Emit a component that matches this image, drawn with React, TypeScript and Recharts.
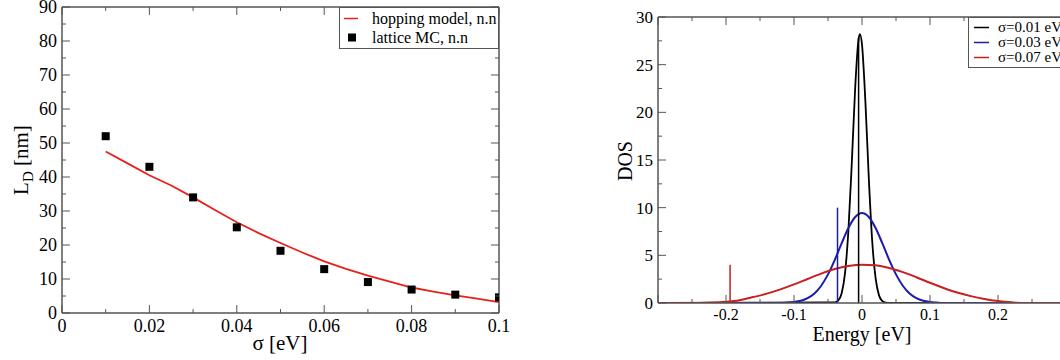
import { ComposedChart, Line, Scatter, XAxis, YAxis, Legend, Label } from 'recharts'

// left panel: diffusion length vs disorder
const sigmaTicks = [0, 0.02, 0.04, 0.06, 0.08, 0.1]
const sigmaMinorTicks = [0.01, 0.03, 0.05, 0.07, 0.09]
const ldTicks = [0, 10, 20, 30, 40, 50, 60, 70, 80, 90]
const ldMinorTicks = [5, 15, 25, 35, 45, 55, 65, 75, 85]

const hoppingSigma = [0.01, 0.015, 0.02, 0.025, 0.03, 0.035, 0.04, 0.045, 0.05, 0.055, 0.06, 0.065, 0.07, 0.075, 0.08, 0.085, 0.09, 0.095, 0.1]
const hoppingLd = [47.5, 44, 40.5, 37.5, 34, 30.3, 26.7, 23.5, 20.6, 17.8, 15.2, 13, 11, 9.2, 7.5, 6.3, 5.2, 4.2, 3.2]

const latticeSigma = [0.01, 0.02, 0.03, 0.04, 0.05, 0.06, 0.07, 0.08, 0.09, 0.1]
const latticeLd = [52, 43, 34, 25.2, 18.3, 12.9, 9.1, 6.9, 5.4, 4.6]

// right panel: density of states
const energyLabelTicks = [-0.2, -0.1, 0, 0.1, 0.2]
const energyMajorTicks = [-0.3, -0.2, -0.1, 0, 0.1, 0.2, 0.3]
const energyMinorTicks = [-0.25, -0.15, -0.05, 0.05, 0.15, 0.25]
const dosTicks = [0, 5, 10, 15, 20, 25, 30]
const dosMinorTicks = [2.5, 7.5, 12.5, 17.5, 22.5, 27.5]

const dos01Energy = [-0.3, -0.04, -0.035, -0.03, -0.025, -0.02, -0.015, -0.01, -0.005, -0.003, 0, 0.005, 0.01, 0.015, 0.02, 0.025, 0.03, 0.035, 0.04, 0.3]
const dos01Value = [0, 0.06, 0.27, 1.0, 3.1, 7.6, 14.7, 22.6, 27.7, 28.2, 27.1, 21.1, 13.1, 6.5, 2.6, 0.8, 0.2, 0.04, 0, 0]

const dos03Energy = [-0.3, -0.12, -0.11, -0.1, -0.09, -0.08, -0.07, -0.06, -0.05, -0.04, -0.03, -0.02, -0.01, 0, 0.01, 0.02, 0.03, 0.04, 0.05, 0.06, 0.07, 0.08, 0.09, 0.1, 0.11, 0.12, 0.3]
const dos03Value = [0, 0, 0.04, 0.1, 0.23, 0.5, 0.99, 1.81, 3.0, 4.52, 6.25, 7.86, 9.02, 9.44, 9.02, 7.86, 6.25, 4.52, 3.0, 1.81, 0.99, 0.5, 0.23, 0.1, 0.04, 0, 0]

const dos07Energy = [-0.3, -0.24, -0.22, -0.2, -0.18, -0.16, -0.14, -0.12, -0.1, -0.08, -0.06, -0.04, -0.02, 0, 0.02, 0.04, 0.06, 0.08, 0.1, 0.12, 0.14, 0.16, 0.18, 0.2, 0.22, 0.24, 0.3]
const dos07Value = [0, 0, 0.04, 0.13, 0.3, 0.62, 0.98, 1.43, 1.95, 2.52, 3.08, 3.56, 3.88, 4.02, 3.95, 3.68, 3.24, 2.7, 2.12, 1.58, 1.1, 0.72, 0.42, 0.2, 0.07, 0, 0]

const markerEnergy = [-0.005, -0.036, -0.194]
const markerHeight = [27.8, 10, 4]

const serif = 'Liberation Serif, Times New Roman, serif'
const frame = '#555'

const zip = (xs: number[], ys: number[]) => xs.map((x, i) => ({ x, y: ys[i] }))

const hoppingData = zip(hoppingSigma, hoppingLd)
const latticeData = zip(latticeSigma, latticeLd)
const dos01 = zip(dos01Energy, dos01Value)
const dos03 = zip(dos03Energy, dos03Value)
const dos07 = zip(dos07Energy, dos07Value)
const markers = markerEnergy.map((x, i) => [{ x, y: 0 }, { x, y: markerHeight[i] }])

// inward tick marks (long for majors, short for minors) plus optional outside labels
function makeTick(side: 'bottom' | 'top' | 'left' | 'right', majors: number[], labels: number[] | null, fontSize: number, below = 19) {
  return (p: any) => {
    const v = p.payload.value
    const len = majors.includes(v) ? 8 : 4
    const x = p.x
    const y = p.y
    let line
    if (side === 'bottom') line = <line x1={x} x2={x} y1={y} y2={y - len} stroke={frame} />
    else if (side === 'top') line = <line x1={x} x2={x} y1={y} y2={y + len} stroke={frame} />
    else if (side === 'left') line = <line x1={x} x2={x + len} y1={y} y2={y} stroke={frame} />
    else line = <line x1={x} x2={x - len} y1={y} y2={y} stroke={frame} />
    let label = null
    if (labels && labels.includes(v)) {
      if (side === 'bottom') {
        label = <text x={x} y={y + below} textAnchor="middle" fontFamily={serif} fontSize={fontSize} fill="#000">{String(v)}</text>
      } else if (side === 'left') {
        label = <text x={x - 5} y={y + 6} textAnchor="end" fontFamily={serif} fontSize={fontSize} fill="#000">{String(v)}</text>
      }
    }
    return <g>{line}{label}</g>
  }
}

function BoxLegend(props: any) {
  const { payload, rowH, fontSize, padTop, lineX1, lineX2, textX } = props
  const items = (payload ?? []).filter((it: any) => it.type !== 'none')
  return (
    <div
      style={{
        border: `1px solid ${frame}`,
        background: '#fff',
        paddingTop: padTop,
        paddingBottom: padTop,
        boxSizing: 'border-box',
        fontFamily: serif,
        fontSize,
        color: '#000',
        whiteSpace: 'nowrap',
        overflow: 'hidden',
      }}
    >
      {items.map((it: any) => (
        <div key={it.value} style={{ display: 'flex', alignItems: 'center', height: rowH }}>
          <svg width={textX} height={rowH} style={{ flex: 'none' }}>
            {it.type === 'square' ? (
              <rect x={(lineX1 + lineX2) / 2 - 3} y={rowH / 2 - 4} width={8} height={8} fill={it.color} />
            ) : (
              <line x1={lineX1} x2={lineX2} y1={rowH / 2} y2={rowH / 2} stroke={it.color} strokeWidth={1.5} />
            )}
          </svg>
          <span style={{ lineHeight: `${rowH}px` }}>{it.value}</span>
        </div>
      ))}
    </div>
  )
}

const axisLine = { stroke: frame, strokeWidth: 1.5 }

function DiffusionChart() {
  const allX = [...sigmaTicks, ...sigmaMinorTicks]
  const allY = [...ldTicks, ...ldMinorTicks]
  return (
    <ComposedChart width={520} height={360} margin={{ top: 6, right: 20, bottom: 46, left: 61 }}>
      <XAxis xAxisId="main" dataKey="x" type="number" domain={[0, 0.1]} allowDataOverflow ticks={allX}
        interval={0} height={1} tickLine={false} tickSize={0} tickMargin={0} axisLine={axisLine}
        tick={makeTick('bottom', sigmaTicks, sigmaTicks, 18)}>
        <Label content={() => (
          <text x={280} y={350} textAnchor="middle" fontFamily={serif} fontSize={21} fill="#000">σ [eV]</text>
        )} />
      </XAxis>
      <XAxis xAxisId="top" orientation="top" dataKey="x" type="number" domain={[0, 0.1]} allowDataOverflow ticks={allX}
        interval={0} height={1} tickLine={false} tickSize={0} tickMargin={0} axisLine={axisLine}
        tick={makeTick('top', sigmaTicks, null, 18)} />

      <YAxis yAxisId="main" type="number" domain={[0, 90]} allowDataOverflow ticks={allY} interval={0}
        width={1} tickLine={false} tickSize={0} tickMargin={0} axisLine={axisLine}
        tick={makeTick('left', ldTicks, ldTicks, 18)}>
        <Label content={() => (
          <text x={28} y={160} textAnchor="middle" transform="rotate(-90 28 160)" fontFamily={serif} fontSize={21} fill="#000">
            L<tspan dy={5} fontSize={15}>D</tspan><tspan dy={-5}> [nm]</tspan>
          </text>
        )} />
      </YAxis>
      <YAxis yAxisId="right" orientation="right" type="number" domain={[0, 90]} allowDataOverflow ticks={allY} interval={0}
        width={1} tickLine={false} tickSize={0} tickMargin={0} axisLine={axisLine}
        tick={makeTick('right', ldTicks, null, 18)} />

      <Line xAxisId="main" yAxisId="main" data={hoppingData} dataKey="y" name="hopping model, n.n" type="linear"
        stroke="#e8201c" strokeWidth={1.8} dot={false} activeDot={false} legendType="line" isAnimationActive={false} />
      <Scatter xAxisId="main" yAxisId="main" data={latticeData} dataKey="y" name="lattice MC, n.n" fill="#000"
        legendType="square" isAnimationActive={false}
        shape={(p: any) => <rect x={p.cx - 4} y={p.cy - 4} width={8} height={8} fill="#000" />} />

      <Legend layout="horizontal" verticalAlign="middle" align="center"
        wrapperStyle={{ left: 339, top: 7, width: 160, height: 41 }}
        content={(p: any) => <BoxLegend {...p} rowH={19} fontSize={16} padTop={1} lineX1={4} lineX2={18} textX={32} />} />
    </ComposedChart>
  )
}

function DosChart() {
  const dom: [number, number] = [-0.3, 0.3]
  const ydom: [number, number] = [0, 30]
  const allX = [...energyMajorTicks, ...energyMinorTicks]
  const allY = [...dosTicks, ...dosMinorTicks]
  return (
    <ComposedChart width={526} height={360} margin={{ top: 16, right: 0, bottom: 56, left: 117 }}>
      <XAxis xAxisId="main" dataKey="x" type="number" domain={dom} allowDataOverflow ticks={allX}
        interval={0} height={1} tickLine={false} tickSize={0} tickMargin={0} axisLine={axisLine}
        tick={makeTick('bottom', energyMajorTicks, energyLabelTicks, 16, 17)}>
        <Label content={() => (
          <text x={322} y={341} textAnchor="middle" fontFamily={serif} fontSize={20} fill="#000">Energy [eV]</text>
        )} />
      </XAxis>
      <XAxis xAxisId="top" orientation="top" dataKey="x" type="number" domain={dom} allowDataOverflow ticks={allX}
        interval={0} height={1} tickLine={false} tickSize={0} tickMargin={0} axisLine={axisLine}
        tick={makeTick('top', energyMajorTicks, null, 17)} />

      <YAxis yAxisId="main" type="number" domain={ydom} allowDataOverflow ticks={allY} interval={0}
        width={1} tickLine={false} tickSize={0} tickMargin={0} axisLine={axisLine}
        tick={makeTick('left', dosTicks, dosTicks, 17)}>
        <Label content={() => (
          <text x={92} y={161} textAnchor="middle" transform="rotate(-90 92 161)" fontFamily={serif} fontSize={20} fill="#000">DOS</text>
        )} />
      </YAxis>

      <Line xAxisId="main" yAxisId="main" data={dos01} dataKey="y" name="σ=0.01 eV" type="monotone"
        stroke="#000" strokeWidth={1.8} dot={false} activeDot={false} isAnimationActive={false} />
      <Line xAxisId="main" yAxisId="main" data={dos03} dataKey="y" name="σ=0.03 eV" type="monotone"
        stroke="#1c1caa" strokeWidth={2} dot={false} activeDot={false} isAnimationActive={false} />
      <Line xAxisId="main" yAxisId="main" data={dos07} dataKey="y" name="σ=0.07 eV" type="monotone"
        stroke="#c8201e" strokeWidth={2} dot={false} activeDot={false} isAnimationActive={false} />
      {markers.map((m, i) => (
        <Line key={i} xAxisId="main" yAxisId="main" data={m} dataKey="y" type="linear" legendType="none"
          stroke={['#000', '#1c1caa', '#c8201e'][i]} strokeWidth={1.5} dot={false} activeDot={false} isAnimationActive={false} />
      ))}

      <Legend layout="horizontal" verticalAlign="middle" align="center"
        wrapperStyle={{ left: 428, top: 17, width: 94, height: 49 }}
        content={(p: any) => <BoxLegend {...p} rowH={15} fontSize={15} padTop={2} lineX1={5} lineX2={20} textX={29} />} />
    </ComposedChart>
  )
}

export default function App() {
  return (
    <div style={{ position: 'fixed', left: 0, top: 0, width: 1060, height: 360, overflow: 'hidden', background: '#fff' }}>
      <div style={{ position: 'absolute', left: 0, top: 0 }}>
        <DiffusionChart />
      </div>
      <div style={{ position: 'absolute', left: 540, top: 0 }}>
        <DosChart />
      </div>
    </div>
  )
}
